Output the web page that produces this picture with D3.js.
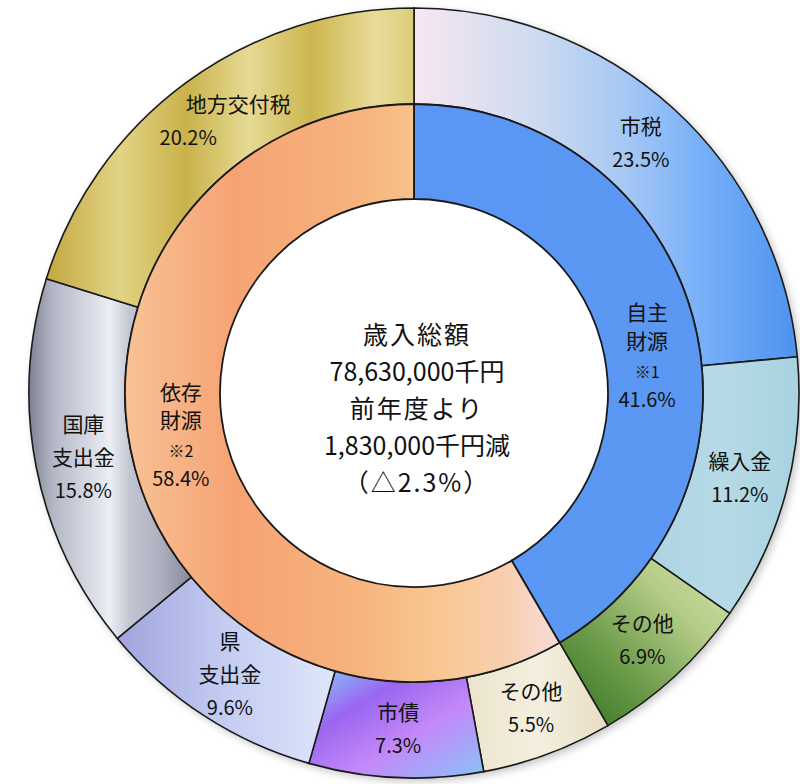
<!DOCTYPE html>
<html lang="ja">
<head>
<meta charset="UTF-8">
<title>歳入内訳</title>
<script src="https://d3js.org/d3.v7.min.js"></script>
<style>
  body { margin: 0; background: #fff; }
  .lbl { font-family: "Noto Sans CJK JP", "Noto Sans", sans-serif; font-size: 20px; fill: #111; }
  .lbl.jp { font-size: 21px; }
  .center { font-family: "Noto Sans CJK JP", sans-serif; font-size: 25px; fill: #111; }
</style>
</head>
<body>
<svg width="800" height="784"></svg>
<script>
// 外側: 内訳 (%)
const outerNames = ["市税", "繰入金", "その他", "その他", "市債", "県支出金", "国庫支出金", "地方交付税"];
const outerLines = [["市税"], ["繰入金"], ["その他"], ["その他"], ["市債"], ["県", "支出金"], ["国庫", "支出金"], ["地方交付税"]];
const outerValues = [23.5, 11.2, 6.9, 5.5, 7.3, 9.6, 15.8, 20.2];

// 内側: 自主財源 / 依存財源
const innerLines = [["自主", "財源", "※1"], ["依存", "財源", "※2"]];
const innerValues = [41.6, 58.4];

const centerText = ["歳入総額", "78,630,000千円", "前年度より", "1,830,000千円減", "（△2.3%）"];

// グラデーション
const outerGrads = [
  {dir: [0, 0, 1, 0], stops: [[0, "#f8e6f2"], [0.3, "#cfdcef"], [0.55, "#a6c8f4"], [0.75, "#78b0f8"], [1, "#4d92f0"]]},
  {dir: [0, 0, 1, 0], stops: [[0, "#aed4e4"], [0.5, "#b6dae6"], [1, "#a8d2e0"]]},
  {dir: [0, 1, 1, 0], stops: [[0, "#2f7020"], [0.35, "#6a9a48"], [0.7, "#b4cc88"], [1, "#d2e2ac"]]},
  {dir: [0, 0, 1, 0], stops: [[0, "#ece4cc"], [0.5, "#f4efe0"], [1, "#e8dec2"]]},
  {dir: [0, 0, 1, 1], stops: [[0, "#86cbf8"], [0.3, "#9a66f0"], [0.6, "#c488f8"], [1, "#88c4f8"]]},
  {dir: [0, 0, 1, 0], stops: [[0, "#a0a4dc"], [0.5, "#c4ccf2"], [1, "#dfe6fb"]]},
  {dir: [0, 0, 1, 0], stops: [[0, "#7c8092"], [0.15, "#b4b8c6"], [0.35, "#d4d6e0"], [0.5, "#eceef4"], [0.62, "#c2c6d2"], [0.8, "#aeb2c0"], [1, "#868a9c"]]},
  {dir: [0, 0, 1, 0], stops: [[0, "#c2a840"], [0.2, "#e2d486"], [0.38, "#c9b24a"], [0.55, "#e6da94"], [0.72, "#cdb650"], [0.9, "#e8dc9a"], [1, "#dccb78"]]}
];
const innerGrads = [
  {dir: [0, 0, 1, 0], stops: [[0, "#5a96f4"], [1, "#5b98f2"]]},
  {dir: [0, 0, 1, 0], stops: [[0, "#f8c296"], [0.25, "#f6a374"], [0.55, "#f7b47e"], [0.7, "#f8c68e"], [0.88, "#f8cfb0"], [1, "#f6dcd8"]]}
];

const svg = d3.select("svg");
const cx = 414, cy = 393;
const rOuter = 385, rMid = 289, rHole = 194;

const defs = svg.append("defs");
function addGrad(id, g) {
  const lg = defs.append("linearGradient").attr("id", id)
    .attr("x1", g.dir[0]).attr("y1", g.dir[1]).attr("x2", g.dir[2]).attr("y2", g.dir[3]);
  g.stops.forEach(s => lg.append("stop").attr("offset", s[0]).attr("stop-color", s[1]));
}
outerGrads.forEach((g, i) => addGrad("og" + i, g));
innerGrads.forEach((g, i) => addGrad("ig" + i, g));

const shadow = defs.append("filter").attr("id", "shadow")
  .attr("x", "-10%").attr("y", "-10%").attr("width", "120%").attr("height", "120%");
shadow.append("feGaussianBlur").attr("in", "SourceAlpha").attr("stdDeviation", 4);
shadow.append("feOffset").attr("dx", 3).attr("dy", 3).attr("result", "b");
shadow.append("feComponentTransfer").append("feFuncA").attr("type", "linear").attr("slope", 0.25);
const merge = shadow.append("feMerge");
merge.append("feMergeNode");
merge.append("feMergeNode").attr("in", "SourceGraphic");

const pie = d3.pie().sort(null).value(d => d);
const outerArcs = pie(outerValues);
const innerArcs = pie(innerValues);

const arcOuter = d3.arc().innerRadius(rMid).outerRadius(rOuter);
const arcInner = d3.arc().innerRadius(rHole).outerRadius(rMid);

const g = svg.append("g").attr("transform", `translate(${cx},${cy})`);

g.append("circle").attr("r", rOuter).attr("fill", "#fff").attr("filter", "url(#shadow)");

g.append("g").selectAll("path")
  .data(outerArcs).join("path")
  .attr("d", arcOuter)
  .attr("fill", (d, i) => `url(#og${i})`)
  .attr("stroke", "#1a1a1a").attr("stroke-width", 1.6);

g.append("g").selectAll("path")
  .data(innerArcs).join("path")
  .attr("d", arcInner)
  .attr("fill", (d, i) => `url(#ig${i})`)
  .attr("stroke", "#1a1a1a").attr("stroke-width", 1.8);

// 外側ラベル
const lineH = 33;
outerArcs.forEach((d, i) => {
  const [x, y] = arcOuter.centroid(d);
  const lines = outerLines[i].concat([d3.format(".1f")(outerValues[i]) + "%"]);
  const top = y - (lines.length - 1) * lineH / 2 + 7;
  lines.forEach((t, k) => {
    let dx = 0;
    if (i === 7) dx = k === 0 ? 24 : -26;
    g.append("text").attr("class", k < lines.length - 1 ? "lbl jp" : "lbl")
      .attr("x", x + dx).attr("y", top + k * lineH)
      .attr("text-anchor", "middle")
      .text(t);
  });
});

// 内側ラベル
const innerShift = [26, -20];
innerArcs.forEach((d, i) => {
  const [x, y] = arcInner.centroid(d);
  const lines = innerLines[i].concat([d3.format(".1f")(innerValues[i]) + "%"]);
  const top = y + innerShift[i] - (lines.length - 1) * 29 / 2 + 7;
  lines.forEach((t, k) => {
    g.append("text").attr("class", k < 2 ? "lbl jp" : "lbl")
      .attr("x", x).attr("y", top + k * 29)
      .attr("text-anchor", "middle")
      .style("font-size", k === 2 ? "16px" : null)
      .text(t);
  });
});

// 中央テキスト
centerText.forEach((t, k) => {
  g.append("text").attr("class", "center")
    .attr("x", 3).attr("y", -58 + k * 37 + 9)
    .attr("text-anchor", "middle")
    .style("letter-spacing", /^[0-9]/.test(t) ? "0px" : "2px")
    .text(t);
});
</script>
</body>
</html>
